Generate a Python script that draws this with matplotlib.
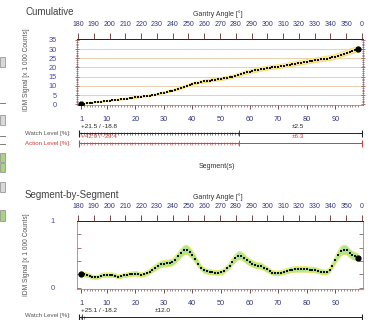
import numpy as np
import matplotlib
matplotlib.use("Agg")
from matplotlib import pyplot as plt
from matplotlib.patches import Rectangle

plt.rcParams['font.family'] = ['Liberation Sans', 'DejaVu Sans']

# segment-by-segment signal [x 1000 counts]
segment_signal = [
    0.20, 0.20, 0.19, 0.18, 0.16, 0.155, 0.16, 0.18, 0.19, 0.19,
    0.19, 0.19, 0.18, 0.165, 0.17, 0.185, 0.19, 0.20, 0.205, 0.21,
    0.205, 0.19, 0.20, 0.215, 0.24, 0.27, 0.30, 0.33, 0.35, 0.36,
    0.365, 0.37, 0.38, 0.42, 0.47, 0.52, 0.56, 0.57, 0.54, 0.49,
    0.43, 0.36, 0.30, 0.26, 0.245, 0.235, 0.23, 0.225, 0.225, 0.23,
    0.25, 0.29, 0.33, 0.39, 0.44, 0.48, 0.48, 0.45, 0.41, 0.38,
    0.36, 0.34, 0.33, 0.325, 0.30, 0.275, 0.25, 0.225, 0.215, 0.215,
    0.225, 0.235, 0.25, 0.26, 0.27, 0.275, 0.275, 0.275, 0.275, 0.275,
    0.27, 0.27, 0.265, 0.25, 0.24, 0.23, 0.23, 0.26, 0.33, 0.41,
    0.49, 0.55, 0.57, 0.56, 0.52, 0.485, 0.47, 0.45,
]
segments = np.arange(1, len(segment_signal) + 1)
cumulative = np.cumsum(segment_signal)

gantry_ticks = [180, 190, 200, 210, 220, 230, 240, 250, 260, 270, 280, 290,
                300, 310, 320, 330, 340, 350, 360]
gantry_labels = [str(a) for a in gantry_ticks[:-1]] + ["0"]
segment_ticks = [1, 10, 20, 30, 40, 50, 60, 70, 80, 90]

top_watch = ["+21.5 / -18.8", "±2.5"]
top_action = ["+42.9 / -39.4", "±6.3"]
bottom_watch = ["+25.1 / -18.2", "±12.0"]

W, H = 374, 320
NAVY = '#33337f'
BLUE = '#4646a8'
TICKRED = '#6a2a2a'
GRAY = '#555555'
RED = '#d83a3a'
XLIM = (-0.4, 99.7)


def rect(x0, y0, x1, y1):
    # pixel box (top-left origin) -> figure fraction
    return [x0 / W, 1 - y1 / H, (x1 - x0) / W, (y1 - y0) / H]


def style_main(ax, ylim):
    ax.set_xlim(*XLIM)
    ax.set_ylim(*ylim)
    for name, s in ax.spines.items():
        s.set_color('#222222' if name == 'top' else '#777777')
        s.set_linewidth(0.7 if name == 'top' else 0.5)
    ax.set_xticks(segment_ticks)
    ax.set_xticks(segments, minor=True)
    ax.tick_params(axis='x', which='major', direction='out', length=3,
                   color=TICKRED, width=0.6, labelsize=5.3, labelcolor=NAVY, pad=5)
    ax.tick_params(axis='x', which='minor', direction='out', length=1.6,
                   color=TICKRED, width=0.4)
    ax.tick_params(axis='y', which='both', left=True, right=True,
                   color=TICKRED, width=0.45, labelsize=5.3, labelcolor=BLUE)
    ax.tick_params(axis='y', which='major', direction='inout', length=3, pad=13)
    ax.tick_params(axis='y', which='minor', direction='inout', length=2.0)

    top = ax.twiny()
    top.set_xlim(179.4, 360.6)
    top.set_xticks(gantry_ticks)
    top.set_xticklabels(gantry_labels)
    top.tick_params(axis='x', direction='out', length=4, color=TICKRED, width=0.6,
                    labelsize=5.0, labelcolor=NAVY, pad=4)
    for s in top.spines.values():
        s.set_visible(False)
    return top


def ruler(y_px, color, split, ticks_upto, texts, right_x, fig):
    ax = fig.add_axes(rect(77, y_px - 5, 363, y_px + 5))
    ax.set_xlim(*XLIM)
    ax.set_ylim(-1, 1)
    ax.axis('off')
    ax.plot([0.4, 99.2], [0, 0], color=color, lw=0.7)
    ax.vlines([0.4, 99.2], -0.7, 0.7, color=color, lw=0.8)
    ax.vlines([split], -0.6, 0.6, color=color, lw=0.6)
    tk = np.arange(1, ticks_upto + 1)
    ax.vlines(tk, -0.3, 0.3, color=color, lw=0.4)
    ax.text(1.0, 0.9, texts[0], color=color, fontsize=4.6, ha='left', va='bottom')
    ax.text(right_x, 0.9, texts[1], color=color, fontsize=4.6, ha='center', va='bottom')


fig = plt.figure(figsize=(W / 100, H / 100), dpi=100)

# left-hand UI strip
for y0, y1, c in [(57, 67, '#d8d8d8'), (115, 125, '#d8d8d8'), (153, 162, '#a8d480'),
                  (163, 172, '#a8d480'), (182, 192, '#d8d8d8'), (210, 221, '#a8d480')]:
    fig.add_artist(Rectangle((0, 1 - y1 / H), 5 / W, (y1 - y0) / H,
                             transform=fig.transFigure, fc=c, ec='#888888', lw=0.5))
for y in [103, 136, 144]:
    fig.add_artist(plt.Line2D([0, 5 / W], [1 - y / H] * 2, transform=fig.transFigure,
                              color='#666666', lw=0.6))

# ---- cumulative ----
ax1 = fig.add_axes(rect(77, 39, 363, 105))
style_main(ax1, (-0.4, 35.5))
ax1.set_yticks(np.arange(0, 36, 5))
ax1.set_yticks(np.arange(0, 36, 1), minor=True)
for g in range(5, 35, 5):
    ax1.axhline(g, color='#e6c9a4', lw=0.6, zorder=0)
band = 0.04 * cumulative + 0.25
ax1.fill_between(segments, cumulative - band, cumulative + band, color='#f8ddb0', lw=0, zorder=1)
ax1.plot(segments, cumulative + band, color='#f2e35a', lw=0.6, zorder=1)
ax1.plot(segments, cumulative - band, color='#f2e35a', lw=0.6, zorder=1)
ax1.plot(segments, cumulative, color='#111111', lw=0, marker='s', ms=1.9, mew=0, zorder=3)
ax1.plot([segments[0], segments[-1]], [cumulative[0], cumulative[-1]], 'o',
         color='black', ms=3.5, zorder=4)

fig.text(25 / W, 1 - 12 / H, "Cumulative", fontsize=7, color='#404040', va='center')
fig.text(218 / W, 1 - 14 / H, "Gantry Angle [°]", fontsize=5, color='#333333',
         ha='center', va='center')
fig.text(27 / W, 1 - 70 / H, "IDM Signal [x 1 000 Counts]", fontsize=4.8, color=GRAY,
         rotation=90, ha='center', va='center')

ruler(133, '#222222', 56.3, 56, top_watch, 76.9, fig)
ruler(143, RED, 56.3, 56, top_action, 76.9, fig)
fig.text(25 / W, 1 - 134 / H, "Watch Level [%]:", fontsize=4.4, color=GRAY, va='center')
fig.text(25 / W, 1 - 143 / H, "Action Level [%]:", fontsize=4.4, color=RED, va='center')
fig.text(217 / W, 1 - 167 / H, "Segment(s)", fontsize=5, color='#333333',
         ha='center', va='center')

# ---- segment-by-segment ----
ax2 = fig.add_axes(rect(77, 221, 363, 289))
style_main(ax2, (-0.02, 1.0))
ax2.set_yticks([0, 0.2, 0.4, 0.6, 0.8, 1.0])
ax2.set_yticklabels(["0", "", "", "", "", "1"])
ax2.tick_params(axis='y', which='major', direction='in', length=3, pad=16)
seg = np.array(segment_signal)
sband = 0.1 * seg + 0.012
ax2.fill_between(segments, seg - sband, seg + sband, color='#aee394', lw=0, zorder=1)
ax2.plot(segments, seg + sband, color='#e8e84a', lw=0.6, zorder=1)
ax2.plot(segments, seg - sband, color='#e8e84a', lw=0.6, zorder=1)
ax2.plot(segments, seg, color='#111111', lw=0, marker='s', ms=2.1, mew=0, zorder=3)
ax2.plot([segments[0], segments[-1]], [seg[0], seg[-1]], 'o', color='black', ms=3.5, zorder=4)

fig.text(25 / W, 1 - 195 / H, "Segment-by-Segment", fontsize=7, color='#404040', va='center')
fig.text(218 / W, 1 - 197 / H, "Gantry Angle [°]", fontsize=5, color='#333333',
         ha='center', va='center')
fig.text(27 / W, 1 - 255 / H, "IDM Signal [x 1 000 Counts]", fontsize=4.8, color=GRAY,
         rotation=90, ha='center', va='center')

ruler(317, '#222222', 1.4, 2, bottom_watch, 29.7, fig)
fig.text(25 / W, 1 - 316 / H, "Watch Level [%]:", fontsize=4.4, color=GRAY, va='center')

fig.savefig("out.png", dpi=100)
